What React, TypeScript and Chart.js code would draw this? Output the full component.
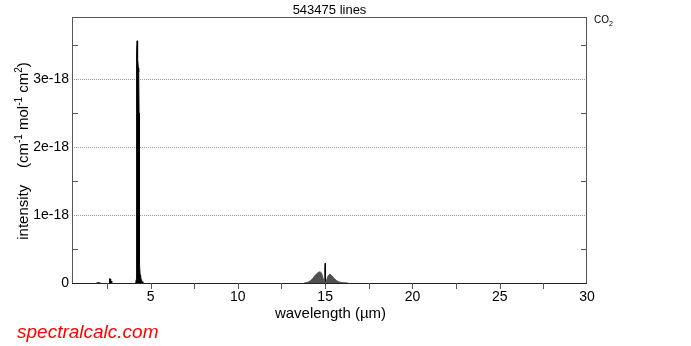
import React, { useEffect, useRef } from 'react';
import { Chart, registerables } from 'chart.js';

Chart.register(...registerables);

// ---------- text ----------
const CHART_TITLE = '543475 lines';
const X_TITLE = 'wavelength (µm)';
const Y_TITLE_PARTS: { t: string; sup?: boolean }[] = [
  { t: 'intensity    (cm' },
  { t: '-1', sup: true },
  { t: ' mol' },
  { t: '-1', sup: true },
  { t: ' cm' },
  { t: '2', sup: true },
  { t: ')' },
];
const MOLECULE = 'CO';
const MOLECULE_SUB = '2';
const WATERMARK = 'spectralcalc.com';

// ---------- axes ----------
const X_MIN = 0.5;
const X_MAX = 30;
const Y_MIN = 0;
const Y_MAX = 3.91; // in units of 1e-18
const X_TICK_VALUES = [5, 10, 15, 20, 25, 30];
const X_TICK_LABELS = ['5', '10', '15', '20', '25', '30'];
const X_MINOR_TICKS = [2.5, 5, 7.5, 10, 12.5, 15, 17.5, 20, 22.5, 25, 27.5];
const Y_TICK_VALUES = [0, 1, 2, 3];
const Y_TICK_LABELS = ['0', '1e-18', '2e-18', '3e-18'];
const Y_MINOR_TICKS = [0.5, 1.5, 2.5, 3.5];

// ---------- data (wavelength µm, intensity ×1e-18 cm-1/(mol cm-2)) ----------
const band20Wl = [1.9, 1.95, 2.0, 2.05, 2.1];
const band20Int = [0, 0.003, 0.004, 0.003, 0];

const band27Wl = [2.62, 2.65, 2.66, 2.69, 2.71, 2.72, 2.75, 2.78, 2.8];
const band27Int = [0, 0.01, 0.065, 0.06, 0.04, 0.03, 0.025, 0.01, 0];

const band43Wl = [4.15, 4.18, 4.19, 4.2, 4.215, 4.23, 4.245, 4.27, 4.3, 4.32, 4.34, 4.355, 4.37, 4.4, 4.43, 4.47, 4.52, 4.56];
const band43Int = [0, 0.05, 0.5, 3.0, 3.4, 3.56, 3.4, 3.3, 3.16, 3.1, 2.5, 1.0, 0.3, 0.12, 0.09, 0.05, 0.02, 0];

const band15RWl = [13.8, 14.0, 14.15, 14.3, 14.45, 14.6, 14.72, 14.8, 14.88, 14.95, 14.98];
const band15RInt = [0, 0.01, 0.03, 0.07, 0.12, 0.155, 0.165, 0.14, 0.07, 0.02, 0];

const band15PWl = [15.02, 15.08, 15.18, 15.28, 15.38, 15.5, 15.65, 15.8, 16.0, 16.3];
const band15PInt = [0, 0.04, 0.11, 0.128, 0.11, 0.07, 0.035, 0.015, 0.005, 0];

const band15QWl = [14.97, 14.985, 15.0, 15.015, 15.03];
const band15QInt = [0, 0.2, 0.29, 0.2, 0];

const FONT = '"Liberation Sans", Arial, Helvetica, sans-serif';

const series = (wl: number[], val: number[]) => wl.map((x, i) => ({ x, y: val[i] }));

const decorPlugin = {
  id: 'decor',
  beforeDatasetsDraw(chart: any) {
    const { ctx, chartArea, scales } = chart;
    const y = scales.y;
    ctx.save();
    ctx.strokeStyle = '#999';
    ctx.lineWidth = 1;
    ctx.setLineDash([1, 1]);
    for (const v of Y_TICK_VALUES) {
      if (v === 0) continue;
      const py = Math.round(y.getPixelForValue(v)) + 0.5;
      ctx.beginPath();
      ctx.moveTo(chartArea.left, py);
      ctx.lineTo(chartArea.right, py);
      ctx.stroke();
    }
    ctx.restore();
  },
  afterDatasetsDraw(chart: any) {
    const { ctx, chartArea, scales } = chart;
    const { left, right, top, bottom } = chartArea;
    const x = scales.x;
    const y = scales.y;
    ctx.save();
    ctx.setLineDash([]);
    ctx.lineWidth = 1;
    // frame
    ctx.strokeStyle = '#555';
    ctx.strokeRect(left + 0.5, top + 0.5, right - left - 1, bottom - top);
    ctx.strokeStyle = '#222';
    ctx.beginPath();
    ctx.moveTo(left, bottom + 0.5);
    ctx.lineTo(right, bottom + 0.5);
    ctx.stroke();
    // y minor ticks (inward, both sides)
    ctx.strokeStyle = '#555';
    for (const v of Y_MINOR_TICKS) {
      const py = Math.round(y.getPixelForValue(v)) + 0.5;
      ctx.beginPath();
      ctx.moveTo(left, py);
      ctx.lineTo(left + 6, py);
      ctx.moveTo(right - 6, py);
      ctx.lineTo(right, py);
      ctx.stroke();
    }
    // x ticks (outward)
    for (const v of X_MINOR_TICKS) {
      const px = Math.round(x.getPixelForValue(v)) + 0.5;
      ctx.beginPath();
      ctx.moveTo(px, bottom);
      ctx.lineTo(px, bottom + 6);
      ctx.stroke();
    }
    // titles
    ctx.fillStyle = '#000';
    ctx.textBaseline = 'alphabetic';
    ctx.textAlign = 'center';
    ctx.font = `13px ${FONT}`;
    ctx.fillText(CHART_TITLE, (left + right) / 2, 14);
    ctx.font = `15px ${FONT}`;
    ctx.fillText(X_TITLE, (left + right) / 2 + 1, 318);

    // y title with superscripts
    ctx.save();
    ctx.translate(28, (top + bottom) / 2 + 1);
    ctx.rotate(-Math.PI / 2);
    ctx.textAlign = 'left';
    const mainFont = `15px ${FONT}`;
    const supFont = `10px ${FONT}`;
    let total = 0;
    for (const p of Y_TITLE_PARTS) {
      ctx.font = p.sup ? supFont : mainFont;
      total += ctx.measureText(p.t).width;
    }
    let cx = -total / 2;
    for (const p of Y_TITLE_PARTS) {
      ctx.font = p.sup ? supFont : mainFont;
      ctx.fillText(p.t, cx, p.sup ? -6 : 0);
      cx += ctx.measureText(p.t).width;
    }
    ctx.restore();

    // molecule label
    ctx.textAlign = 'left';
    ctx.font = `10px ${FONT}`;
    ctx.fillText(MOLECULE, 594, 23);
    const w = ctx.measureText(MOLECULE).width;
    ctx.font = `7px ${FONT}`;
    ctx.fillText(MOLECULE_SUB, 594 + w, 26);

    // watermark
    ctx.fillStyle = '#ff0000';
    ctx.font = `italic 19px ${FONT}`;
    ctx.fillText(WATERMARK, 17, 338);
    ctx.restore();
  },
};

export default function App() {
  const ref = useRef<HTMLCanvasElement>(null);
  useEffect(() => {
    if (!ref.current) return;
    const common = { fill: 'origin', pointRadius: 0, borderWidth: 1, tension: 0 };
    const chart = new Chart(ref.current, {
      type: 'line',
      data: {
        datasets: [
          { ...common, data: series(band20Wl, band20Int), borderColor: '#000', backgroundColor: '#000' },
          { ...common, data: series(band27Wl, band27Int), borderColor: '#000', backgroundColor: '#000' },
          { ...common, data: series(band43Wl, band43Int), borderColor: '#000', backgroundColor: '#000' },
          { ...common, data: series(band15RWl, band15RInt), borderColor: '#505050', backgroundColor: '#505050' },
          { ...common, data: series(band15PWl, band15PInt), borderColor: '#505050', backgroundColor: '#505050' },
          { ...common, data: series(band15QWl, band15QInt), borderColor: '#000', backgroundColor: '#000' },
        ] as any,
      },
      options: {
        responsive: false,
        animation: false,
        devicePixelRatio: 1,
        layout: { padding: { left: 0, top: 17, right: 104, bottom: 0 } },
        plugins: { legend: { display: false }, tooltip: { enabled: false }, title: { display: false } },
        scales: {
          x: {
            type: 'linear',
            min: X_MIN,
            max: X_MAX,
            grid: { display: false, drawTicks: false },
            border: { display: false },
            afterBuildTicks: (s: any) => {
              s.ticks = X_TICK_VALUES.map((v) => ({ value: v }));
            },
            afterFit: (s: any) => {
              s.height = 63;
            },
            ticks: {
              padding: 6,
              maxRotation: 0,
              autoSkip: false,
              color: '#000',
              font: { family: FONT, size: 14 },
              callback: (v: any) => X_TICK_LABELS[X_TICK_VALUES.indexOf(Number(v))] ?? '',
            },
          },
          y: {
            type: 'linear',
            min: Y_MIN,
            max: Y_MAX,
            grid: { display: false, drawTicks: false },
            border: { display: false },
            afterBuildTicks: (s: any) => {
              s.ticks = Y_TICK_VALUES.map((v) => ({ value: v }));
            },
            afterFit: (s: any) => {
              s.width = 72;
            },
            ticks: {
              padding: 3,
              autoSkip: false,
              color: '#000',
              font: { family: FONT, size: 14 },
              callback: (v: any) => Y_TICK_LABELS[Y_TICK_VALUES.indexOf(Number(v))] ?? '',
            },
          },
        },
      },
      plugins: [decorPlugin],
    });
    return () => chart.destroy();
  }, []);
  return (
    <div style={{ position: 'absolute', left: 0, top: 0, width: 691, height: 346, background: '#fff' }}>
      <canvas ref={ref} width={691} height={346} style={{ display: 'block' }} />
    </div>
  );
}
